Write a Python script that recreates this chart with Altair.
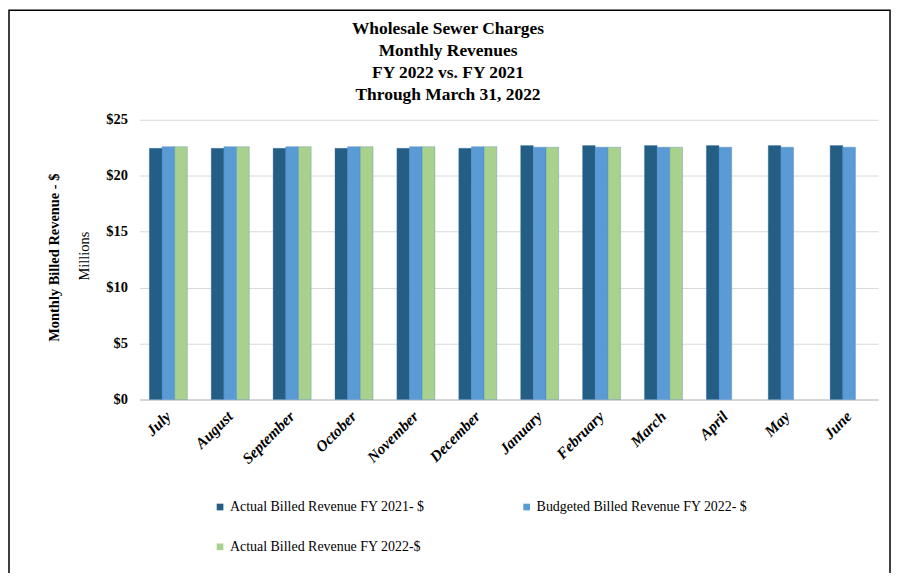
import altair as alt
import pandas as pd

months = ["July", "August", "September", "October", "November", "December",
          "January", "February", "March", "April", "May", "June"]
actual_fy21 = [22.45, 22.45, 22.45, 22.45, 22.45, 22.45, 22.7, 22.7, 22.7, 22.7, 22.7, 22.7]
budget_fy22 = [22.6, 22.6, 22.6, 22.6, 22.6, 22.6, 22.55, 22.55, 22.55, 22.55, 22.55, 22.55]
actual_fy22 = [22.6, 22.6, 22.6, 22.6, 22.6, 22.6, 22.55, 22.55, 22.55, None, None, None]

series = ["Actual Billed Revenue FY 2021- $",
          "Budgeted Billed Revenue FY 2022- $",
          "Actual Billed Revenue FY 2022-$"]
colors = ["#245E84", "#5B9BD5", "#A9D18E"]
title_lines = ["Wholesale Sewer Charges", "Monthly Revenues", "FY 2022 vs. FY 2021",
               "Through March 31, 2022"]

rows = []
for i, m in enumerate(months):
    for s, vals in zip(series, [actual_fy21, budget_fy22, actual_fy22]):
        if vals[i] is not None:
            rows.append({"month": m, "series": s, "value": vals[i]})
df = pd.DataFrame(rows)

FONT = "Liberation Serif"

bars = alt.Chart(df).mark_bar(stroke="#2E75B6", strokeWidth=0.5, strokeOpacity=0.6).encode(
    x=alt.X("month:N", sort=months,
            scale=alt.Scale(paddingInner=0.385, paddingOuter=0.16),
            axis=alt.Axis(title=None, labelAngle=315, labelAlign="right", labelBaseline="middle",
                          labelFont=FONT, labelFontWeight="bold", labelFontStyle="italic",
                          labelFontSize=15.5, labelColor="black", labelPadding=14,
                          ticks=False, domainColor="#BFBFBF", grid=False)),
    xOffset=alt.XOffset("series:N", sort=series, scale=alt.Scale(domain=series)),
    y=alt.Y("value:Q", scale=alt.Scale(domain=[0, 25]),
            axis=alt.Axis(values=[0, 5, 10, 15, 20, 25], labelExpr="'$' + datum.value",
                          labelFont=FONT, labelFontWeight="bold", labelFontSize=14.5,
                          labelColor="black", labelPadding=12, ticks=False, domain=False,
                          gridColor="#D9D9D9", title="Monthly Billed Revenue - $",
                          titleFont=FONT, titleFontWeight="bold", titleFontSize=14.5,
                          titleColor="black", titleX=-85, titleY=138, titleAngle=270,
                          titleAlign="center", titleBaseline="middle")),
    color=alt.Color("series:N", sort=series,
                    scale=alt.Scale(domain=series, range=colors),
                    legend=alt.Legend(title=None, orient="none", legendX=74, legendY=382,
                                      columns=2, columnPadding=95, rowPadding=26,
                                      direction="horizontal", values=series,
                                      symbolType="square", symbolSize=45, symbolStrokeWidth=0,
                                      labelFont=FONT, labelFontSize=14, labelColor="black",
                                      labelOffset=3, labelLimit=400))
)

millions = alt.Chart(pd.DataFrame({"t": ["Millions"]})).mark_text(
    angle=270, font=FONT, fontSize=14.5, color="black", align="center", baseline="middle"
).encode(x=alt.value(-55), y=alt.value(137), text="t:N")

title = alt.Chart(pd.DataFrame({"t": ["\n".join(title_lines)]})).mark_text(
    font=FONT, fontSize=17.5, fontWeight="bold", color="black", lineHeight=22,
    lineBreak="\n", align="center", baseline="top"
).encode(x=alt.value(310), y=alt.value(-100), text="t:N")

border = alt.Chart(pd.DataFrame({"a": [0]})).mark_rect(
    fill=None, stroke="black", strokeWidth=1.5
).encode(x=alt.value(-131), x2=alt.value(754), y=alt.value(-110), y2=alt.value(480))

chart = alt.layer(bars, millions, title, border).properties(
    width=742, height=281,
    autosize=alt.AutoSizeParams(type="none"),
    padding={"left": 132, "top": 111, "right": 16, "bottom": 173},
).configure_view(stroke=None)

chart.save("out.html", embed_options={"renderer": "svg", "actions": False})
